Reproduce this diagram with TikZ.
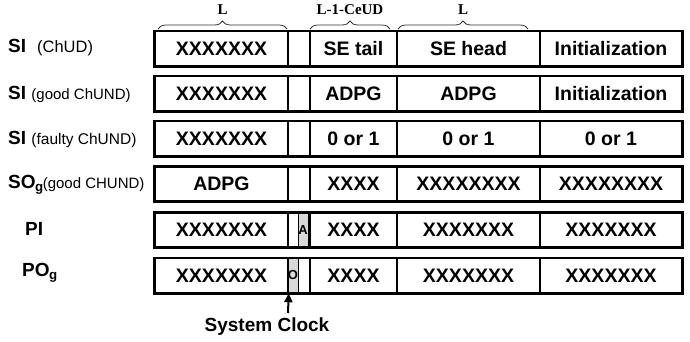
\documentclass[tikz,border=0pt]{standalone}
\usepackage{fontspec}
\setmainfont{Liberation Sans}
\newfontfamily\braceserif{Liberation Serif}
\newcommand\pfont[1]{\mdseries\fontsize{#1}{#1}\selectfont}
\usetikzlibrary{arrows.meta,decorations.pathreplacing}
\tikzset{
  cell/.style={draw, line width=1.4pt, inner sep=0pt, minimum height=34pt,
               font=\bfseries\fontsize{19.5}{20}\selectfont},
  frame/.style={draw, line width=2.6pt},
  gbox/.style={draw, line width=0.6pt, fill=gray!30, inner sep=0pt,
               minimum width=10pt, minimum height=34pt,
               font=\bfseries\fontsize{13}{13}\selectfont},
  brc/.style={decorate, decoration={brace, amplitude=8pt}, line width=0.8pt,
              black!80},
  blbl/.style={font=\braceserif\bfseries\fontsize{15}{15}\selectfont,
               inner sep=0pt, black},
  rlbl/.style={anchor=west, inner sep=0pt,
               font=\bfseries\fontsize{19}{19}\selectfont},
  arr/.style={-{Triangle[length=9pt,width=8pt]}, line width=2pt},
}

\begin{document}
\begin{tikzpicture}[x=1pt, y=-1pt]
\useasboundingbox (0,0) rectangle (690,341);

% gray marks under the narrow column
\node[gbox] (pimark) at (303,230) {A};
\node[gbox] (pomark) at (293,275.5) {O};

% the six timing rows
\foreach \k/\yy/\ta/\tc/\td/\te in {
  1/48.5/XXXXXXX/SE tail/SE head/Initialization,
  2/93.5/XXXXXXX/ADPG/ADPG/Initialization,
  3/138.5/XXXXXXX/0 or 1/0 or 1/0 or 1,
  4/184/ADPG/XXXX/XXXXXXXX/XXXXXXXX,
  5/230/XXXXXXX/XXXX/XXXXXXX/XXXXXXX,
  6/275.5/XXXXXXX/XXXX/XXXXXXX/XXXXXXX}{
  \node[cell, minimum width=133pt] (r\k a) at (221.5,\yy) {\ta};
  \node[cell, minimum width=22pt]  (r\k b) at (299,\yy)   {};
  \node[cell, minimum width=87pt]  (r\k c) at (353.5,\yy) {\tc};
  \node[cell, minimum width=143pt] (r\k d) at (468.5,\yy) {\td};
  \node[cell, minimum width=142pt] (r\k e) at (611,\yy)   {\te};
  \draw[frame] (r\k a.north west) rectangle (r\k e.south east);
}

% row labels
\node[rlbl] (lsi)   at (8,48)    {SI\hspace{11pt}{\pfont{16.5}(ChUD)}};
\node[rlbl] (lgood) at (8,94)    {SI {\pfont{15}(good ChUND)}};
\node[rlbl] (lflt)  at (8,139)   {SI {\pfont{15.5}(faulty ChUND)}};
\node[rlbl] (lso)   at (8,185)   {SO\kern-0.5pt\textsubscript{g}\kern-1pt{\pfont{15}(good CHUND)}};
\node[rlbl] (lpi)   at (25,229)  {PI};
\node[rlbl] (lpo)   at (22,273)  {PO\kern-0.5pt\textsubscript{g}};

% braces over the first row
\draw[brc] (158,29) -- (287,29) node[blbl, midway, above=14pt] (bl) {L};
\draw[brc] (310,29) -- (390,29) node[blbl, midway, above=14pt] (bm) {L-1-CeUD};
\draw[brc] (398,29) -- (528,29) node[blbl, midway, above=14pt] (br) {L};

% system clock
\coordinate (clkfoot) at (288,313);
\node[font=\bfseries\fontsize{19}{19}\selectfont] (clk) at (267,327) {System Clock};
\draw[arr] (clkfoot) -- (r6a.south east);
\end{tikzpicture}
\end{document}
